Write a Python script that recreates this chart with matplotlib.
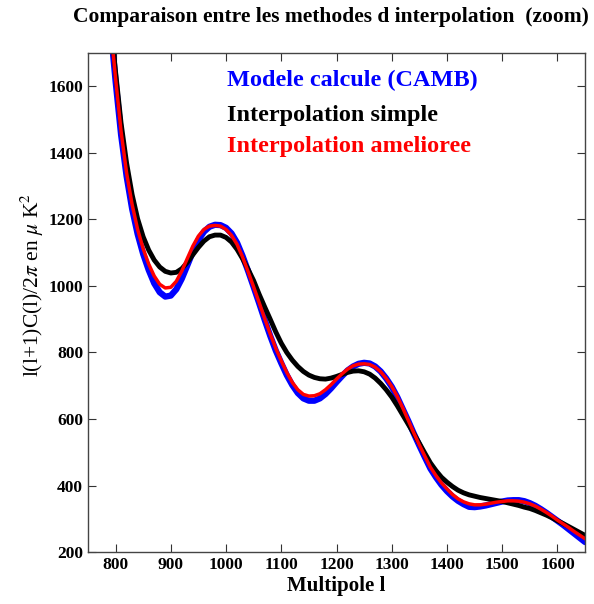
import numpy as np
import matplotlib
matplotlib.use('Agg')
import matplotlib.pyplot as plt

# multipoles (pas de 10)
l_vals = np.arange(780, 1651, 10)

# modele CAMB
camb = [1990, 1795, 1617, 1455, 1330, 1232, 1156, 1096, 1048, 1008,
        981, 968, 971, 990, 1022, 1062, 1103, 1138, 1163, 1178,
        1184, 1183, 1175, 1158, 1130, 1090, 1045, 997, 948, 898,
        850, 806, 768, 732, 702, 678, 662, 655, 655, 662,
        675, 692, 711, 729, 746, 758, 766, 769, 767, 758,
        743, 722, 697, 666, 630, 594, 556, 520, 485, 451,
        425, 402, 383, 367, 354, 344, 336, 335, 337, 340,
        344, 348, 352, 355, 356, 356, 353, 347, 339, 329,
        318, 306, 294, 282, 269, 256, 243, 230]

# interpolation simple
simple = [2000, 1815, 1645, 1490, 1370, 1275, 1202, 1148, 1108, 1078,
          1057, 1044, 1039, 1041, 1052, 1071, 1094, 1116, 1135, 1148,
          1153, 1153, 1146, 1132, 1110, 1082, 1050, 1016, 975, 937,
          900, 862, 828, 800, 777, 758, 743, 732, 725, 721,
          720, 723, 728, 734, 740, 744, 745, 742, 735, 723,
          707, 688, 666, 640, 612, 584, 556, 527, 497, 468,
          445, 425, 410, 397, 386, 378, 372, 368, 364, 361,
          358, 355, 352, 348, 344, 340, 335, 331, 325, 318,
          311, 303, 294, 286, 277, 268, 259, 250]

# interpolation amelioree
amelioree = [1995, 1800, 1625, 1465, 1340, 1245, 1170, 1112, 1066, 1030,
             1005, 994, 996, 1014, 1045, 1083, 1120, 1150, 1170, 1180,
             1182, 1180, 1170, 1152, 1125, 1087, 1043, 997, 950, 902,
             856, 813, 775, 740, 710, 688, 674, 669, 670, 676,
             688, 703, 720, 736, 750, 760, 765, 766, 764, 756,
             742, 722, 698, 668, 633, 596, 558, 522, 488, 455,
             430, 408, 390, 373, 360, 351, 345, 342, 342, 344,
             347, 350, 352, 354, 354, 353, 350, 345, 338, 329,
             319, 308, 296, 285, 274, 262, 251, 240]

plt.rcParams['font.family'] = ['Liberation Serif', 'DejaVu Serif']
plt.rcParams['mathtext.fontset'] = 'stix'

fig = plt.figure(figsize=(5.94, 6.04), dpi=100)
ax = fig.add_axes([0.148, 0.086, 0.837, 0.826])

ax.plot(l_vals, camb, color='blue', lw=4.5, solid_capstyle='round')
ax.plot(l_vals, simple, color='black', lw=3.5, solid_capstyle='round')
ax.plot(l_vals, amelioree, color='red', lw=2.5, solid_capstyle='round')

ax.set_xlim(750, 1650)
ax.set_ylim(200, 1700)
ax.set_xticks(np.arange(800, 1601, 100))
ax.set_yticks(np.arange(200, 1601, 200))
ax.tick_params(direction='in', top=True, right=True, length=6, width=0.8,
               labelsize=12.5, color='#333333')
for lab in ax.get_xticklabels() + ax.get_yticklabels():
    lab.set_fontweight('bold')
for sp in ax.spines.values():
    sp.set_color('#444444')
    sp.set_linewidth(1.0)

ax.set_xlabel('Multipole l', fontsize=15, fontweight='bold', labelpad=2)
ax.set_ylabel(r'l(l+1)C(l)/2$\pi$ en $\mu$ K$^2$', fontsize=15.5)
ax.yaxis.set_label_coords(-0.085, 0.535)

fig.text(0.557, 0.972, 'Comparaison entre les methodes d interpolation  (zoom)',
         fontsize=15.5, fontweight='bold', ha='center', va='center')

ax.text(0.28, 0.946, 'Modele calcule (CAMB)', color='blue', fontsize=17.5,
        fontweight='bold', va='center', transform=ax.transAxes)
ax.text(0.28, 0.876, 'Interpolation simple', color='black', fontsize=17.5,
        fontweight='bold', va='center', transform=ax.transAxes)
ax.text(0.28, 0.812, 'Interpolation amelioree', color='red', fontsize=17.5,
        fontweight='bold', va='center', transform=ax.transAxes)

fig.savefig('out.png', dpi=100)
